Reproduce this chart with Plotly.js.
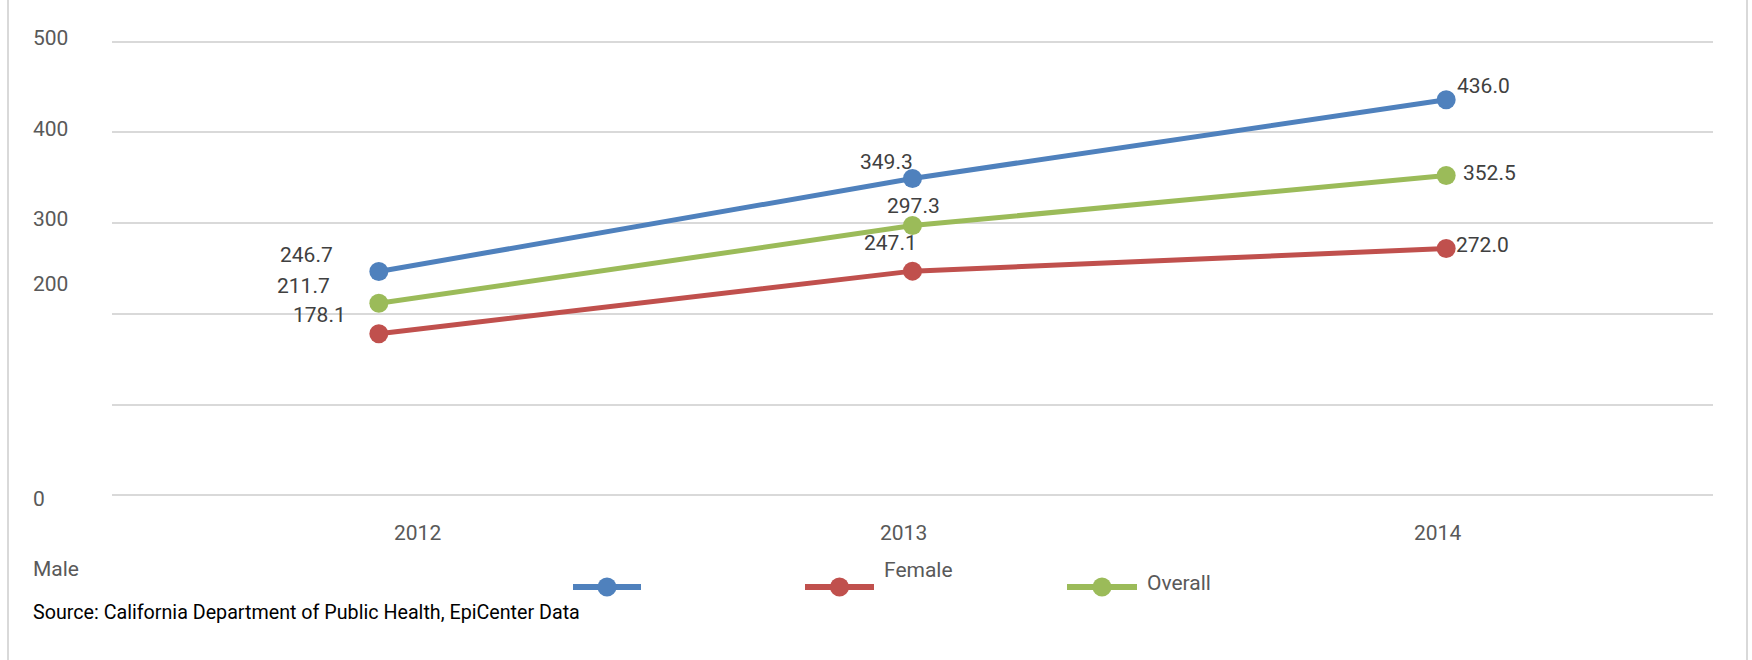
<!DOCTYPE html>
<html>
<head>
<meta charset="utf-8">
<script src="https://cdn.plot.ly/plotly-3.0.1.min.js"></script>
<style>html,body{margin:0;padding:0;background:#fff;}#chart{width:1752px;height:660px;}</style>
</head>
<body>
<div id="chart"></div>
<script>
// ---- data ----
const years = ['2012', '2013', '2014'];
const male = [246.7, 349.3, 436.0];
const female = [178.1, 247.1, 272.0];
const overall = [211.7, 297.3, 352.5];
const seriesNames = ['Male', 'Female', 'Overall'];
const yTickLabels = ['500', '400', '300', '200', '0'];
const sourceText = 'Source: California Department of Public Health, EpiCenter Data';

// ---- style ----
const W = 1752, H = 660;
const M = {l: 112, r: 39, t: 39, b: 162};
const PW = W - M.l - M.r, PH = H - M.t - M.b;
const px2x = p => (p - M.l) / PW;
const py2y = p => (H - M.b - p) / PH;
const colors = ['#4f81bd', '#c0504d', '#9bbb59'];
const FONT = 'Roboto, "Noto Sans", sans-serif';
const labelColor = '#404040';
const tickColor = '#595959';

const seriesData = [male, female, overall];
const traces = seriesData.map((vals, i) => ({
  type: 'scatter', mode: 'lines+markers', name: seriesNames[i],
  x: years, y: vals,
  line: {color: colors[i], width: 5},
  marker: {color: colors[i], size: 19},
  showlegend: false, hoverinfo: 'x+y'
}));

// data label offsets (pixels) per series per year
const lblShift = [
  [[-72, 16], [-26, 16], [37, 14]],
  [[-59, 19], [-22, 28], [36, 4]],
  [[-75, 17], [1, 20], [43, 3]]
];
const annotations = [];
seriesData.forEach((vals, i) => {
  vals.forEach((v, j) => {
    annotations.push({
      x: j, y: v, xref: 'x', yref: 'y', text: v.toFixed(1), showarrow: false,
      xanchor: 'center', yanchor: 'middle', xshift: lblShift[i][j][0], yshift: lblShift[i][j][1],
      font: {family: FONT, size: 21, color: labelColor}
    });
  });
});

// category labels (placed off-center as in the source)
const catShift = [39, -9, -9];
years.forEach((yr, j) => {
  annotations.push({
    x: j, y: py2y(533), xref: 'x', yref: 'paper', text: yr, showarrow: false,
    xanchor: 'center', yanchor: 'middle', xshift: catShift[j],
    font: {family: FONT, size: 21, color: tickColor}
  });
});

// y tick labels (left-aligned, as drawn in the source)
const yTickPix = [38, 128.5, 219, 284, 499];
yTickLabels.forEach((t, k) => {
  annotations.push({
    x: px2x(31), y: py2y(yTickPix[k]), xref: 'paper', yref: 'paper', text: t, showarrow: false,
    xanchor: 'left', yanchor: 'middle',
    font: {family: FONT, size: 21, color: tickColor}
  });
});

// legend texts
const legendText = [
  {t: seriesNames[0], x: 31, y: 569},
  {t: seriesNames[1], x: 882, y: 570},
  {t: seriesNames[2], x: 1145, y: 583}
];
legendText.forEach(o => annotations.push({
  x: px2x(o.x), y: py2y(o.y), xref: 'paper', yref: 'paper', text: o.t, showarrow: false,
  xanchor: 'left', yanchor: 'middle', font: {family: FONT, size: 21, color: tickColor}
}));

// source note
annotations.push({
  x: px2x(31), y: py2y(612), xref: 'paper', yref: 'paper', text: sourceText, showarrow: false,
  xanchor: 'left', yanchor: 'middle', font: {family: FONT, size: 19.7, color: '#000000'}
});

// legend swatches + frame lines
const shapes = [];
const swatches = [[573, 641], [805, 874], [1067, 1137]];
swatches.forEach((s, i) => {
  shapes.push({type: 'line', xref: 'paper', yref: 'paper', x0: px2x(s[0]), x1: px2x(s[1]),
    y0: py2y(587), y1: py2y(587), line: {color: colors[i], width: 6}});
  const cx = px2x((s[0] + s[1]) / 2);
  shapes.push({type: 'circle', xref: 'paper', yref: 'paper', xsizemode: 'pixel', ysizemode: 'pixel',
    xanchor: cx, yanchor: py2y(587), x0: -9.5, x1: 9.5, y0: -9.5, y1: 9.5,
    fillcolor: colors[i], line: {width: 0}});
});
[8, 1747].forEach(p => shapes.push({type: 'line', xref: 'paper', yref: 'paper',
  x0: px2x(p), x1: px2x(p), y0: py2y(0), y1: py2y(H), line: {color: '#d9d9d9', width: 2}}));

const layout = {
  width: W, height: H,
  margin: M,
  paper_bgcolor: '#ffffff', plot_bgcolor: '#ffffff',
  showlegend: false,
  xaxis: {type: 'category', categoryarray: years, range: [-0.5, 2.5], showgrid: false,
    showticklabels: false, zeroline: false, showline: false, ticks: ''},
  yaxis: {range: [-3, 503], tickvals: [0, 100, 200, 300, 400, 500], showticklabels: false,
    gridcolor: '#d9d9d9', gridwidth: 2, zeroline: false, showline: false, ticks: ''},
  annotations: annotations,
  shapes: shapes,
  font: {family: FONT}
};

Plotly.newPlot('chart', traces, layout, {displayModeBar: false, staticPlot: true});
</script>
</body>
</html>
